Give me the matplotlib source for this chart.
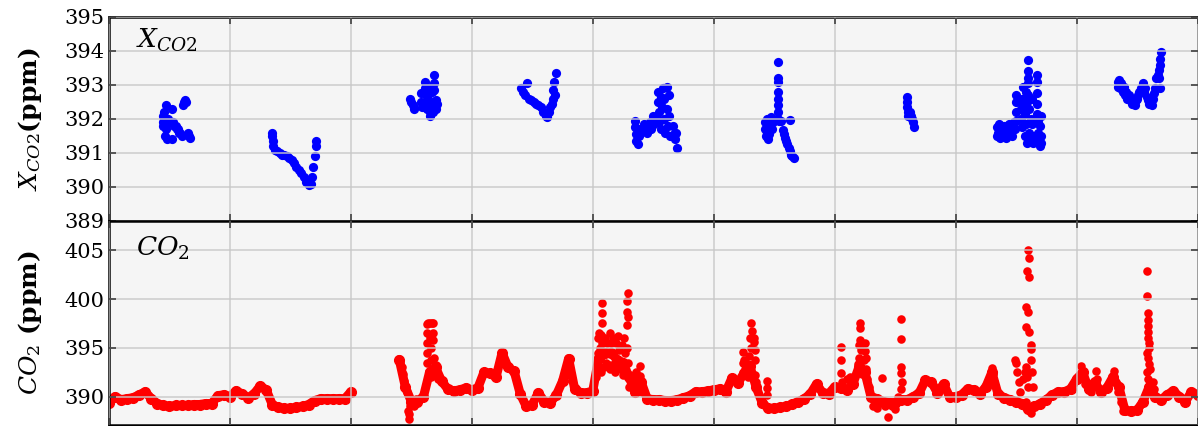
import matplotlib.pyplot as plt
import numpy as np

# CO2 mole fraction (ppm), sampled every 0.05 day
co2_t_a = np.linspace(0.0, 2.0, 41)
co2_a = [389.4, 390.0, 389.7, 389.8, 389.9, 390.2, 390.5, 389.8, 389.3, 389.1,
         389.0, 389.1, 389.1, 389.1, 389.2, 389.2, 389.3, 389.3, 390.1, 390.2,
         390.0, 390.6, 390.3, 389.9, 390.3, 391.1, 390.7, 389.2, 388.9, 388.8,
         388.8, 388.9, 389.0, 389.2, 389.6, 389.8, 389.8, 389.8, 389.8, 389.8,
         390.5]

co2_t_b = np.linspace(2.4, 9.0, 133)
co2_b = [393.8, 391.0, 389.5, 389.5, 390.0, 392.5, 393.0, 391.6, 390.8, 390.6,
         390.7, 390.9, 390.7, 390.9, 392.5, 392.4, 392.0, 394.5, 393.0, 392.6,
         390.3, 389.0, 389.2, 390.4, 389.5, 389.4, 390.2, 391.6, 393.9, 390.8,
         390.4, 390.4, 390.6, 394.0, 394.5, 394.5, 393.8, 393.5, 392.0, 390.5,
         391.5, 389.8, 389.7, 389.7, 389.6, 389.6, 389.7, 389.9, 390.1, 390.5,
         390.5, 390.6, 390.7, 390.8, 390.5, 391.9, 391.4, 392.4, 393.1, 391.0,
         389.4, 388.8, 388.8, 388.9, 389.0, 389.25, 389.5, 389.8, 390.3, 391.3,
         390.4, 390.3, 391.0, 390.9, 390.7, 391.3, 393.0, 392.5, 390.0, 389.8,
         389.5, 389.4, 389.4, 389.7, 389.7, 390.0, 390.4, 391.7, 391.5, 390.4,
         391.3, 390.0, 390.0, 390.2, 390.8, 390.7, 390.3, 391.0, 392.5, 390.3,
         389.9, 389.7, 389.5, 389.3, 388.7, 389.0, 389.3, 389.7, 390.2, 390.5,
         390.5, 390.8, 391.8, 392.5, 390.8, 391.5, 390.5, 390.9, 392.0, 391.0,
         388.6, 388.5, 388.6, 389.5, 391.0, 390.0, 389.7, 390.2, 390.6, 390.0,
         389.5, 390.5, 390.2]

# scattered CO2 readings (spikes and noisy spells)
spike_t = [2.41, 2.42, 2.43, 2.44, 2.46, 2.47, 2.48, 2.48, 2.49, 2.52, 2.54,
           2.63, 2.63, 2.63, 2.63, 2.63, 2.64, 2.65, 2.655, 2.66, 2.66, 2.66,
           2.67, 2.68, 2.68, 2.68, 2.69, 2.70, 2.71, 2.72,
           4.03, 4.04, 4.04, 4.05, 4.05, 4.06, 4.07, 4.07, 4.08, 4.08, 4.08,
           4.08, 4.09, 4.10, 4.11, 4.12, 4.13, 4.14, 4.14, 4.15, 4.16, 4.17,
           4.18, 4.19, 4.20, 4.21, 4.22, 4.23, 4.24, 4.25, 4.26, 4.27, 4.28,
           4.28, 4.285, 4.29, 4.29, 4.28, 4.29, 4.30, 4.31, 4.33, 4.36, 4.37,
           4.39, 4.39, 4.41,
           5.24, 5.24, 5.25, 5.26, 5.27, 5.28, 5.29, 5.30, 5.31, 5.31, 5.32,
           5.33, 5.33, 5.34, 5.345, 5.34, 5.35, 5.44, 5.44, 5.44,
           6.05, 6.05, 6.05, 6.06, 6.10, 6.13, 6.15,
           6.19, 6.19, 6.20, 6.20, 6.21, 6.21, 6.21, 6.22, 6.22, 6.23, 6.24,
           6.25, 6.25, 6.26, 6.26, 6.27, 6.28,
           6.32, 6.35, 6.39, 6.42, 6.44, 6.47, 6.50, 6.52,
           6.55, 6.55, 6.55, 6.55, 6.555, 6.55,
           7.29, 7.30, 7.31, 7.32,
           7.49, 7.50, 7.51, 7.52, 7.53, 7.56, 7.57, 7.58, 7.59, 7.60, 7.60,
           7.61, 7.59, 7.61, 7.58, 7.60, 7.58, 7.61, 7.62, 7.62, 7.62, 7.63,
           7.64, 7.58, 7.62,
           8.04, 8.05, 8.07, 8.12, 8.16, 8.17, 8.31, 8.32, 8.34, 8.37, 8.38,
           8.58, 8.58, 8.59, 8.59, 8.59, 8.59, 8.59, 8.595, 8.60, 8.58, 8.59,
           8.60, 8.58, 8.59, 8.61, 8.63, 8.64]
spike_co2 = [393.5, 393.0, 392.3, 391.6, 390.5, 388.5, 387.7, 388.2, 389.0, 389.0, 389.8,
             397.4, 396.5, 395.5, 394.5, 393.5, 397.5, 397.5, 396.0, 395.0, 393.8, 392.0,
             397.5, 397.5, 396.5, 395.8, 394.0, 393.2, 392.5, 391.8,
             392.0, 394.5, 396.0, 396.5, 393.0, 395.0, 396.3, 392.5, 399.6, 398.6, 397.5,
             395.5, 393.0, 396.0, 393.5, 395.5, 393.2, 396.5, 392.8, 395.5, 393.2, 396.0,
             392.5, 395.5, 392.8, 396.2, 394.8, 392.8, 395.3, 392.2, 396.0, 394.5, 398.7,
             397.3, 399.8, 400.6, 398.2, 395.0, 393.5, 391.0, 392.2, 391.8, 392.5, 391.8,
             393.1, 392.1, 390.5,
             394.6, 393.5, 393.8, 392.8, 393.5, 392.0, 394.2, 396.0, 397.5, 395.0, 396.7,
             396.0, 395.6, 394.8, 393.8, 392.2, 391.5, 391.6, 390.9, 390.2,
             395.1, 393.8, 392.4, 391.5, 391.8, 392.0, 391.6,
             392.5, 393.3, 394.0, 395.3, 397.6, 397.0, 395.8, 394.8, 393.0, 392.3, 393.8,
             395.5, 394.7, 394.0, 392.8, 391.8, 391.0,
             389.0, 388.8, 391.9, 389.0, 387.9, 389.0, 388.7, 390.0,
             398.0, 395.9, 393.0, 392.4, 391.5, 390.8,
             392.0, 392.9, 392.3, 391.5,
             393.8, 393.5, 392.5, 391.5, 390.5, 391.8, 392.5, 393.0, 392.0, 391.0, 405.0,
             404.2, 402.9, 402.3, 399.2, 398.7, 397.1, 396.6, 395.3, 394.9, 393.8, 392.5,
             391.0, 389.5, 388.3,
             393.1, 392.0, 391.3, 390.5, 392.6, 391.8, 392.6, 391.5, 390.5, 389.5, 388.5,
             402.9, 400.3, 398.6, 397.9, 397.2, 396.6, 396.0, 395.5, 395.0, 394.5, 394.0,
             393.3, 392.5, 391.8, 392.8, 391.5, 390.8]

# column-averaged XCO2 (ppm), one burst of retrievals per day
xco2_t = [0.45, 0.45, 0.45, 0.455, 0.46, 0.47, 0.47, 0.47, 0.48, 0.49, 0.50,
          0.51, 0.52, 0.52, 0.53, 0.54, 0.55, 0.56, 0.57, 0.58, 0.59, 0.60,
          0.61, 0.62, 0.63, 0.64, 0.65, 0.66, 0.67,
          1.345, 1.35, 1.355, 1.36, 1.37, 1.39, 1.41, 1.43, 1.45, 1.47, 1.49,
          1.51, 1.53, 1.55, 1.57, 1.59, 1.61, 1.63, 1.65, 1.67, 1.68, 1.69,
          1.70, 1.71, 1.715,
          2.49, 2.50, 2.51, 2.52, 2.58, 2.58, 2.59, 2.61, 2.61, 2.62, 2.62,
          2.63, 2.64, 2.64, 2.65, 2.65, 2.66, 2.67, 2.68, 2.69, 2.69, 2.69,
          2.70, 2.70, 2.71,
          3.41, 3.42, 3.44, 3.46, 3.47, 3.49, 3.51, 3.53, 3.55, 3.57, 3.59,
          3.61, 3.62, 3.64, 3.65, 3.66, 3.67, 3.67, 3.68, 3.70, 3.69,
          4.35, 4.35, 4.36, 4.36, 4.37, 4.38, 4.39, 4.42, 4.43, 4.44, 4.45,
          4.46, 4.47, 4.48, 4.50, 4.51, 4.53, 4.54, 4.54, 4.55, 4.55, 4.56,
          4.56, 4.57, 4.58, 4.59, 4.59, 4.60, 4.61, 4.61, 4.62, 4.63, 4.63,
          4.64, 4.66, 4.67, 4.68, 4.69, 4.70,
          5.42, 5.42, 5.43, 5.44, 5.44, 5.45, 5.46, 5.46, 5.47, 5.48, 5.49,
          5.53, 5.53, 5.53, 5.53, 5.53, 5.53, 5.53, 5.53, 5.54, 5.56, 5.57,
          5.58, 5.59, 5.60, 5.61, 5.62, 5.63, 5.63, 5.64, 5.65, 5.66,
          6.60, 6.60, 6.60, 6.605, 6.61, 6.62, 6.63, 6.64, 6.65, 6.66,
          7.34, 7.34, 7.35, 7.36, 7.37, 7.38, 7.39, 7.40, 7.41, 7.42, 7.43,
          7.44, 7.45, 7.46, 7.47, 7.48, 7.49, 7.50, 7.50, 7.50, 7.50, 7.54,
          7.54, 7.55, 7.55, 7.56, 7.56, 7.57, 7.57, 7.58, 7.58, 7.59, 7.59,
          7.60, 7.60, 7.60, 7.60, 7.60, 7.61, 7.61, 7.62, 7.62, 7.63, 7.63,
          7.64, 7.65, 7.67, 7.67, 7.67, 7.67, 7.67, 7.68, 7.68, 7.69, 7.70,
          7.70, 7.71, 7.71, 7.71,
          8.34, 8.34, 8.35, 8.36, 8.37, 8.38, 8.39, 8.40, 8.41, 8.42, 8.43,
          8.44, 8.45, 8.46, 8.47, 8.48, 8.49, 8.50, 8.51, 8.52, 8.53, 8.54,
          8.55, 8.56, 8.57, 8.58, 8.59, 8.60, 8.61, 8.62, 8.63, 8.64, 8.65,
          8.66, 8.67, 8.68, 8.68, 8.69, 8.69, 8.70, 8.69]
xco2 = [392.1, 391.9, 391.8, 392.2, 391.5, 392.4, 392.0, 391.7, 391.4, 392.0, 391.9,
        391.9, 392.3, 391.4, 391.9, 391.8, 391.8, 391.7, 391.7, 391.6, 391.6, 391.5,
        392.4, 392.5, 392.55, 392.5, 391.6, 391.5, 391.45,
        391.6, 391.5, 391.35, 391.2, 391.1, 391.05, 391.0, 390.95, 390.95, 390.9, 390.85,
        390.8, 390.7, 390.6, 390.5, 390.4, 390.3, 390.15, 390.05, 390.1, 390.3, 390.6,
        390.9, 391.2, 391.35,
        392.6, 392.5, 392.4, 392.3, 392.75, 392.5, 392.35, 393.1, 392.9, 392.7, 392.5,
        392.3, 392.9, 392.6, 392.2, 392.1, 392.4, 392.8, 392.2, 393.3, 393.05, 392.85,
        392.55, 392.3, 392.45,
        392.9, 392.8, 392.7, 393.05, 392.6, 392.55, 392.5, 392.45, 392.4, 392.35, 392.2,
        392.1, 392.07, 392.2, 392.35, 392.45, 392.6, 392.85, 393.1, 393.35, 392.7,
        391.95, 391.75, 391.55, 391.35, 391.25, 391.5, 391.7, 391.85, 391.65, 391.8, 391.6,
        391.75, 391.9, 391.7, 392.1, 391.85, 392.0, 392.8, 392.5, 392.2, 391.9, 392.65,
        391.7, 392.35, 392.9, 392.6, 392.0, 391.6, 392.95, 392.3, 391.8, 392.7, 392.1,
        391.5, 391.8, 391.55, 391.4, 391.6, 391.15,
        391.9, 391.7, 391.5, 392.0, 391.6, 391.4, 391.85, 391.55, 392.05, 391.7, 391.9,
        393.67, 393.2, 393.1, 392.8, 392.6, 392.4, 392.2, 392.0, 391.95, 391.95, 391.67,
        391.55, 391.45, 391.35, 391.25, 391.15, 391.97, 391.05, 390.95, 390.9, 390.85,
        392.65, 392.5, 392.35, 392.2, 392.1, 392.2, 392.1, 392.0, 391.9, 391.75,
        391.75, 391.5, 391.6, 391.85, 391.45, 391.7, 391.55, 391.8, 391.6, 391.45, 391.7,
        391.85, 391.55, 391.75, 391.5, 391.9, 391.7, 392.7, 392.5, 392.2, 391.95, 392.3,
        392.0, 392.6, 391.75, 392.95, 392.4, 391.5, 392.15, 392.8, 391.85, 392.5, 391.3,
        393.74, 393.4, 393.2, 393.05, 392.7, 392.3, 391.6, 392.0, 391.4, 392.6, 391.85,
        391.3, 391.5, 393.3, 393.1, 392.75, 392.45, 392.15, 391.9, 391.6, 391.4, 391.2,
        391.8, 392.1, 391.5, 391.3,
        393.1, 392.95, 393.15, 392.9, 393.05, 392.8, 392.95, 392.7, 392.8, 392.6, 392.7,
        392.55, 392.6, 392.45, 392.5, 392.4, 392.55, 392.6, 392.7, 392.8, 392.9, 392.95,
        393.05, 392.8, 392.9, 392.65, 392.55, 392.45, 392.5, 392.4, 392.6, 392.75, 392.9,
        393.2, 393.3, 393.45, 393.2, 393.6, 393.75, 393.98, 392.9]

plt.rcParams['font.family'] = 'DejaVu Serif'
plt.rcParams['mathtext.fontset'] = 'dejavuserif'

W, H = 1198, 426
fig = plt.figure(figsize=(W / 100, H / 100), dpi=100)
ax1 = fig.add_axes([109 / W, 205 / H, 1088.5 / W, 204 / H])
ax2 = fig.add_axes([109 / W, 1 / H, 1088.5 / W, 204 / H], sharex=ax1)

ax1.scatter(xco2_t, xco2, s=44, color='blue', lw=0)

ax2.plot(co2_t_a, co2_a, '-o', color='red', lw=6.5, ms=7, solid_capstyle='round')
ax2.plot(co2_t_b, co2_b, '-o', color='red', lw=6.5, ms=7, solid_capstyle='round')
ax2.scatter(spike_t, spike_co2, s=38, color='red', lw=0)

for ax in (ax1, ax2):
    ax.set_facecolor('#f5f5f5')
    ax.set_axisbelow(False)
    ax.grid(True, color='#c8c8c8', lw=1.2, alpha=0.85)
    for s in ax.spines.values():
        s.set_linewidth(1.8)
        s.set_color('black')
    ax.tick_params(direction='in', length=5, width=1.1, color='#333333',
                   top=True, right=True, labelsize=15)
    ax.tick_params(axis='x', labelbottom=False)

ax1.set_xlim(0, 9)
ax1.set_xticks(range(10))
ax1.set_ylim(389, 395)
ax1.set_yticks(range(389, 396))
ax2.set_ylim(387.1, 408)
ax2.set_yticks([390, 395, 400, 405])

ax1.set_ylabel(r'$X_{CO2}$(ppm)', fontsize=18, fontweight='bold')
ax2.set_ylabel(r'$CO_2$ (ppm)', fontsize=18, fontweight='bold')
ax1.yaxis.set_label_coords(-0.06, 0.5)
ax2.yaxis.set_label_coords(-0.06, 0.5)

ax1.text(0.025, 0.95, r'$X_{CO2}$', transform=ax1.transAxes, fontsize=19, va='top')
ax2.text(0.025, 0.93, r'$CO_2$', transform=ax2.transAxes, fontsize=19, va='top')

plt.savefig('out.png', dpi=100)
